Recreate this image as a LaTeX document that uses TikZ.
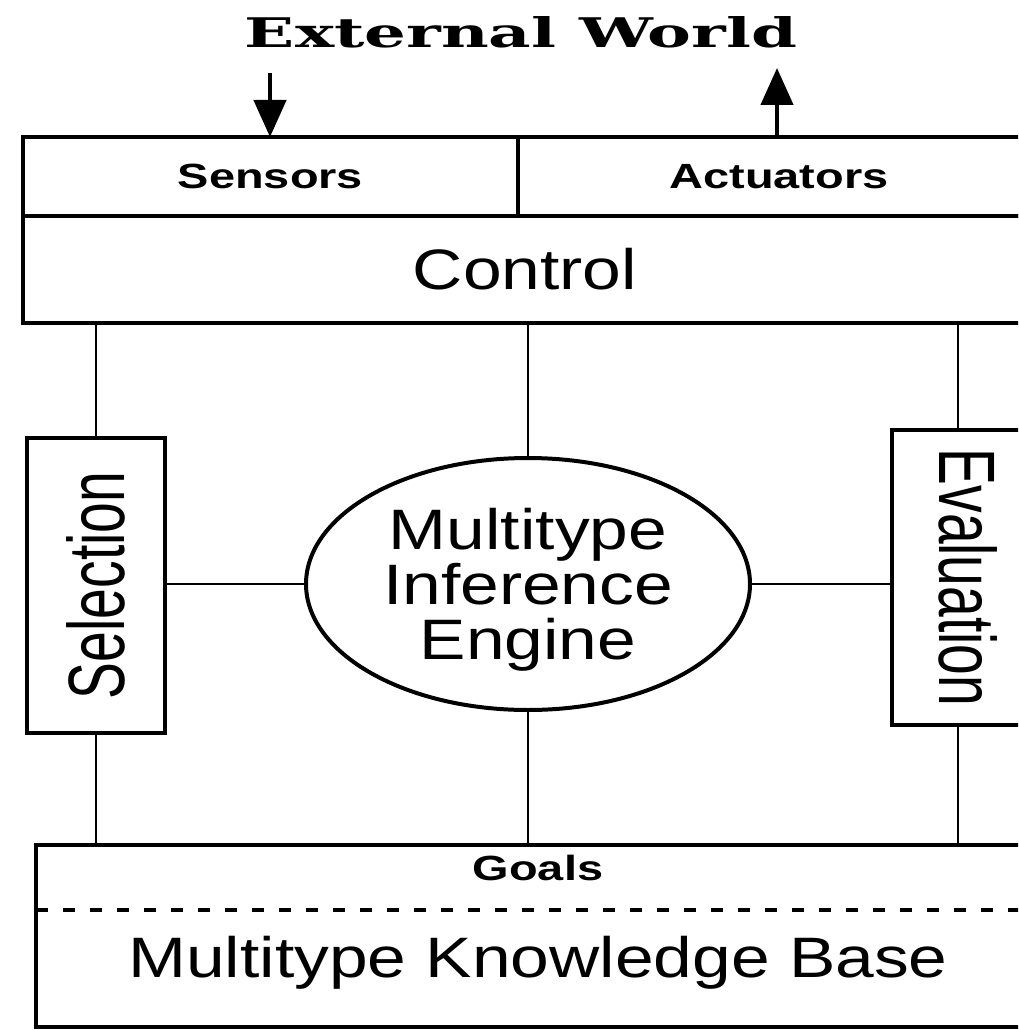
\documentclass[tikz,border=0pt]{standalone}
\usepackage{fontspec}
\usetikzlibrary{positioning,shapes.geometric,arrows.meta}
\newfontfamily\wideface[FakeStretch=1.22]{Liberation Sans}
\newfontfamily\heavyface[FakeStretch=1.34]{Liberation Sans}
\newfontfamily\tallface[FakeStretch=0.69]{Liberation Sans}
\newfontfamily\titleface{DejaVu Serif}

\begin{document}
\begin{tikzpicture}[x=1pt,y=-1pt,
    box/.style={draw,line width=4.5pt,outer sep=0pt,inner sep=0pt},
    big/.style={font=\wideface\fontsize{57pt}{55pt}\selectfont,inner sep=0pt},
    small/.style={font=\heavyface\bfseries\fontsize{35pt}{35pt}\selectfont,inner sep=0pt},
    upright/.style={font=\tallface\fontsize{80pt}{80pt}\selectfont},
    link/.style={line width=2.5pt},
    io/.style={line width=4.5pt,-{Triangle[length=37pt,width=32pt]}}]
      \useasboundingbox (0,0) rectangle (1018,1030);
      \clip (0,0) rectangle (1018,1030);

      \node[font=\titleface\bfseries,inner sep=0pt] (world) at (521,32) {\resizebox{552pt}{31pt}{External World}};
      \node[box,small,minimum width=495pt,minimum height=79pt] (sens) at (270.5,176.5) {Sensors};
      \node[box,small,minimum width=522pt,minimum height=79pt,right=0pt of sens] (act) {Actuators};
      \node[box,big,minimum width=1004pt,minimum height=107pt,below=0pt of sens.south west,anchor=north west] (ctrl) {Control};

      \node[box,upright,rotate=90,minimum width=295pt,minimum height=138pt] (sel) at (96,585.5) {Selection};
      \node[box,upright,rotate=-90,minimum width=295pt,minimum height=152pt] (eval) at (968,577.5) {Evaluation};
      \node[draw,ellipse,line width=4pt,minimum width=444pt,minimum height=252pt,align=center,big,text depth=0pt] (eng) at (528,584) {Multitype\\Inference\\Engine};

      \node[box,minimum width=1004pt,minimum height=182pt] (kb) at (538,936) {};
      \node[small,below=10pt of kb.north] (goals) {Goals};
      \node[big,above=37pt of kb.south] (base) {Multitype Knowledge Base};
      \draw[line width=4pt,dash pattern=on 12pt off 15pt] ([yshift=-65pt]kb.north west) -- ([yshift=-65pt]kb.north east);

      \coordinate (in) at (270,73);
      \coordinate (out) at (777,68);
      \draw[io] (in) -- (in |- sens.north);
      \draw[io] (out |- act.north) -- (out);

      \draw[link] (sel.east) -- (sel.east |- ctrl.south);
      \draw[link] (eng.north) -- (eng.north |- ctrl.south);
      \draw[link] ([xshift=-10pt]eval.west) -- ([xshift=-10pt]eval.west |- ctrl.south);
      \draw[link] (eng.west) -- (eng.west -| sel.south);
      \draw[link] (eng.east) -- (eng.east -| eval.south);
      \draw[link] (sel.west) -- (sel.west |- kb.north);
      \draw[link] (eng.south) -- (eng.south |- kb.north);
      \draw[link] ([xshift=-10pt]eval.east) -- ([xshift=-10pt]eval.east |- kb.north);
    \end{tikzpicture}
\end{document}
